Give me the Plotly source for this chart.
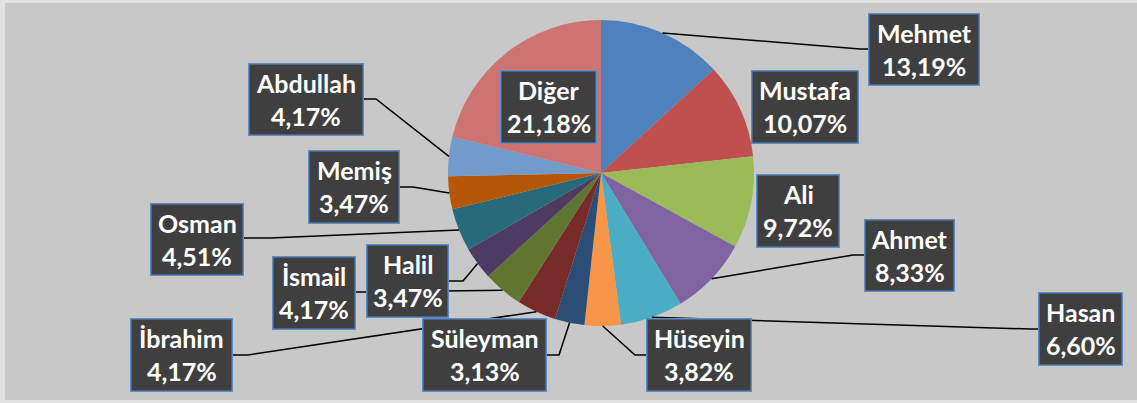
import math
import plotly.graph_objects as go

W, H = 1137, 403

# ---- data ----
names = ["Mehmet", "Mustafa", "Ali", "Ahmet", "Hasan", "Hüseyin", "Süleyman",
         "İbrahim", "İsmail", "Halil", "Osman", "Memiş", "Abdullah", "Diğer"]
values = [13.19, 10.07, 9.72, 8.33, 6.60, 3.82, 3.13,
          4.17, 4.17, 3.47, 4.51, 3.47, 4.17, 21.18]
colors = ["#4F81BD", "#C0504D", "#9BBB59", "#8064A2", "#4BACC6", "#F79646", "#2C4D75",
          "#772C2A", "#5F7530", "#4D3B62", "#276A7C", "#B65708", "#729ACA", "#CD7371"]

# ---- layout (pixel geometry) ----
cx, cy, R = 601, 173, 153
# label boxes: left, top, right, bottom (pixels)
boxes = {
    "Mehmet": (868, 13, 980, 86),
    "Mustafa": (751, 70, 859, 144),
    "Ali": (756, 174, 840, 248),
    "Ahmet": (864, 219, 955, 292),
    "Hasan": (1038, 292, 1123, 366),
    "Hüseyin": (646, 318, 752, 392),
    "Süleyman": (422, 318, 547, 392),
    "İbrahim": (130, 318, 233, 392),
    "İsmail": (272, 256, 356, 330),
    "Halil": (366, 244, 449, 318),
    "Osman": (150, 203, 244, 276),
    "Memiş": (308, 150, 400, 224),
    "Abdullah": (248, 63, 364, 136),
    "Diğer": (500, 70, 597, 144),
}
# leader-line elbow points (labels without entry have no leader line)
elbows = {
    "Mehmet": (860, 49),
    "Ahmet": (853, 255),
    "Hasan": (1030, 329),
    "Hüseyin": (635, 355),
    "Süleyman": (559, 355),
    "İbrahim": (248, 355),
    "İsmail": (366, 292),
    "Halil": (463, 281),
    "Osman": (270, 238),
    "Memiş": (413, 187),
    "Abdullah": (376, 99),
}


def px(x):
    return x / W


def py(y):
    return 1 - y / H


fig = go.Figure()
fig.add_trace(go.Pie(
    labels=names, values=values, sort=False, direction="clockwise", rotation=0,
    marker=dict(colors=colors, line=dict(width=0)),
    textinfo="none", hoverinfo="label+percent", showlegend=False,
    domain=dict(x=[px(cx - R), px(cx + R)], y=[py(cy + R), py(cy - R)]),
))

shapes = [
    dict(type="rect", xref="paper", yref="paper", x0=px(5), x1=1.0, y0=py(400), y1=py(3),
         fillcolor="#C8C8C8", line=dict(width=0), layer="below"),
]
box_shapes = []
annotations = []
font = dict(family="Lato, Open Sans, sans-serif", size=25, color="white")
total = sum(values)
cum = 0.0
for n, v in zip(names, values):
    mid = (cum + v / 2) / total * 2 * math.pi
    cum += v
    l, t, r, b = boxes[n]
    if n in elbows:
        sx = cx + R * math.sin(mid)
        sy = cy - R * math.cos(mid)
        ex, ey = elbows[n]
        bx = r if ex > r else l
        path = f"M {px(sx)} {py(sy)} L {px(ex)} {py(ey)} L {px(bx)} {py(ey)}"
        shapes.append(dict(type="path", xref="paper", yref="paper", path=path,
                           line=dict(color="black", width=1.5), layer="above"))
    box_shapes.append(dict(type="rect", xref="paper", yref="paper",
                           x0=px(l + 0.75), x1=px(r - 0.75), y0=py(b - 0.75), y1=py(t + 0.75),
                           fillcolor="#3F3F3F", line=dict(color="#5B8CC8", width=1.5),
                           layer="above"))
    pct = f"{v:.2f}".replace(".", ",") + "%"
    xc = (l + r) / 2
    for txt, yc in ((n, t + 20), (pct, t + 53)):
        annotations.append(dict(
            xref="paper", yref="paper", x=px(xc), y=py(yc), xanchor="center",
            yanchor="middle", text=f"<b>{txt}</b>", showarrow=False, font=font,
        ))

fig.update_layout(
    width=W, height=H, margin=dict(l=0, r=0, t=0, b=0),
    paper_bgcolor="#E2E2E2", plot_bgcolor="#C8C8C8",
    shapes=shapes + box_shapes, annotations=annotations, showlegend=False,
)
fig.write_html("out.html")
